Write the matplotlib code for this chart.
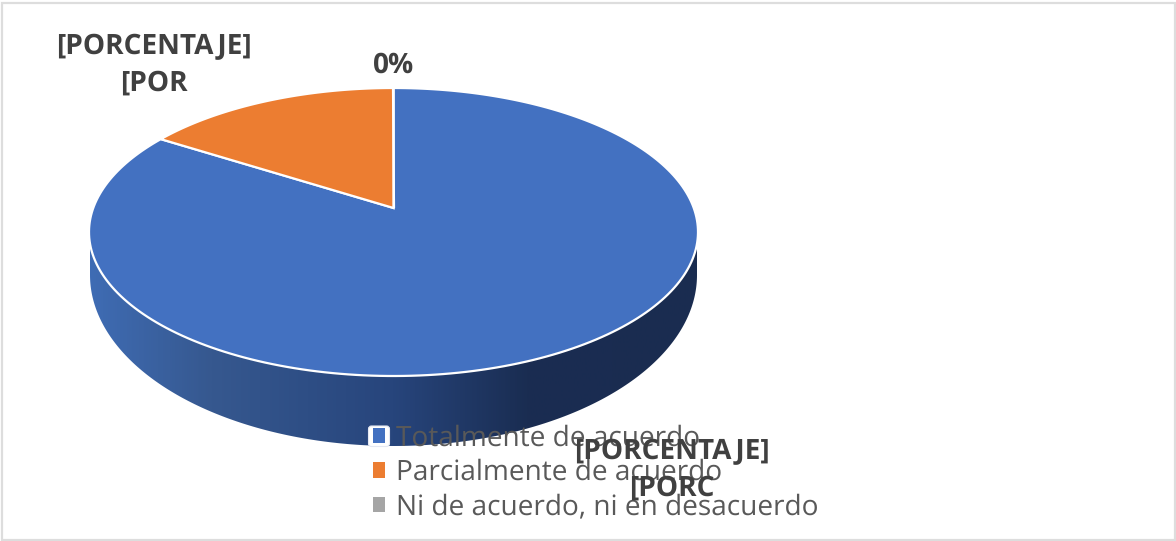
import numpy as np
import matplotlib
matplotlib.use("Agg")
import matplotlib.pyplot as plt
from matplotlib.patches import Polygon, Patch, Rectangle, FancyBboxPatch
from matplotlib.colors import LinearSegmentedColormap

categories = ["Totalmente de acuerdo", "Parcialmente de acuerdo", "Ni de acuerdo, ni en desacuerdo"]
values = [84, 16, 0]
colors = ["#4371C1", "#EC7D31", "#A5A5A5"]
data_labels = ["[PORCENTAJE]\n[PORC", "[PORCENTAJE]\n[POR", "0%"]

plt.rcParams['font.family'] = ['Open Sans', 'DejaVu Sans']
plt.rcParams['text.hinting'] = 'no_hinting'
plt.rcParams['text.hinting_factor'] = 1
fig = plt.figure(figsize=(11.76, 5.41), dpi=100)
ax = fig.add_axes([0, 0, 1, 1])
ax.set_xlim(0, 1176)
ax.set_ylim(541, 0)
ax.axis("off")

cx, cy, rx, ry = 393.5, 232.0, 304.5, 144.0
apex_y = 208.0
a = (cy - apex_y) / ry


def project(theta):
    """Clockwise angle from the top of the pie -> canvas point, with perspective."""
    x, y = np.sin(theta), np.cos(theta)
    d = 1 + a * y
    return cx + rx * x * np.sqrt(1 - a ** 2) / d, cy - ry * (y + a) / d


# Side wall with horizontal gradient
wall_cmap = LinearSegmentedColormap.from_list(
    "wall", [(0, "#3F6CB4"), (0.2, "#36588F"), (0.5, "#27457C"), (0.72, "#1A2D52"), (1, "#1A2C50")])
t = np.linspace(np.pi, 0, 240)
wx0, wy0, wrx, wry = 393.5, 275.0, 303.5, 171.0
low = np.c_[wx0 + wrx * np.cos(t), wy0 + wry * np.sin(t)]
top = np.array([[wx0 + wrx, cy], [wx0 - wrx, cy]])
wall = Polygon(np.r_[low, top], closed=True, fc="none", ec="none", transform=ax.transData)
ax.add_patch(wall)
im = ax.imshow(np.linspace(0, 1, 512)[None, :], cmap=wall_cmap, aspect="auto",
               extent=(89, 698, 541, 0), zorder=1)
im.set_clip_path(wall)
ax.set_xlim(0, 1176)
ax.set_ylim(541, 0)

# Top of the pie, each slice built from its value (clockwise, last slices end at the top)
fracs = np.array(values, dtype=float) / sum(values)
start = 0.0
for frac, col in zip(fracs, colors):
    th = np.linspace(start, start + frac * 2 * np.pi, 240)
    xs, ys = project(th)
    pts = np.r_[[[cx, apex_y]], np.c_[xs, ys]]
    ax.add_patch(Polygon(pts, closed=True, fc=col, ec="white", lw=1.6, zorder=2))
    start += frac * 2 * np.pi

# White selection box behind the first legend key
ax.add_patch(FancyBboxPatch((368.5, 426), 21, 20.5, boxstyle="round,pad=0,rounding_size=3",
                            fc="white", ec="#E4E8F2", lw=0.8, zorder=2.5))

# Legend
handles = [Patch(fc=c, ec="none") for c in colors]
leg = ax.legend(handles, categories, loc="upper left", bbox_to_anchor=(372.5 / 1176, 1 - 424 / 541),
                frameon=False, fontsize=19.85, handlelength=0.47, handleheight=0.47,
                handletextpad=0.40, labelspacing=0.24, labelcolor="#595959", borderpad=0, borderaxespad=0)
leg.set_zorder(3)

# Data labels
label_pos = [(672, 470), (154, 65), (393.5, 65)]
for txt, (lx, ly) in zip(data_labels, label_pos):
    ax.text(lx, ly, txt, ha="center", va="center", fontsize=20.3, fontweight="bold",
            color="#404040", linespacing=1.36, zorder=4)

# Chart frame
fig.add_artist(Rectangle((2 / 1176, 1.5 / 541), 1172.5 / 1176, 536.5 / 541, transform=fig.transFigure,
                         fc="none", ec="#DDDDDD", lw=1.6))

fig.savefig("out.png", dpi=100)
